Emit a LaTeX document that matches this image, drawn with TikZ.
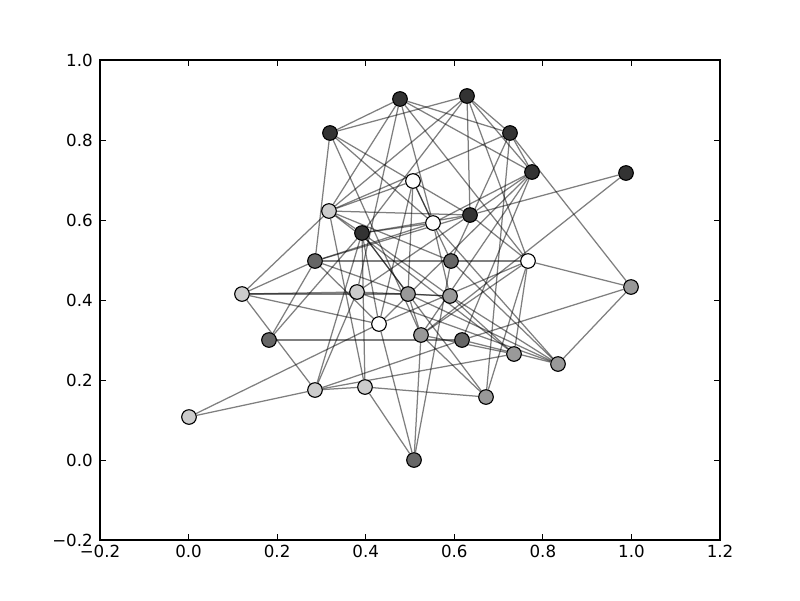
\documentclass[tikz,border=0pt]{standalone}
\usepackage{fontspec}
\setmainfont{DejaVu Sans}
\pgfdeclarelayer{bg}
\pgfsetlayers{bg,main}
\definecolor{cdark}{HTML}{333333}
\definecolor{cdgray}{HTML}{666666}
\definecolor{cmid}{HTML}{999999}
\definecolor{clight}{HTML}{CCCCCC}
\begin{document}
\begin{tikzpicture}[x=0.72pt,y=-0.72pt,
  nd/.style={circle,draw=black,line width=0.8pt,minimum size=10.5pt,inner sep=0pt},
  dk/.style={nd,fill=cdark},
  dg/.style={nd,fill=cdgray},
  md/.style={nd,fill=cmid},
  lt/.style={nd,fill=clight},
  wt/.style={nd,fill=white},
  ed/.style={draw=black,draw opacity=0.5,line width=0.9pt},
  tick/.style={line width=0.6pt},
  lab/.style={font=\fontsize{12}{14}\selectfont,inner sep=0pt}]
\useasboundingbox (0,0) rectangle (800,600);
% axes frame
\draw[line width=0.8pt] (100,60) rectangle (720,540);
% x ticks
\foreach \px/\t in {100/{−0.2},188.57/{0.0},277.14/{0.2},365.71/{0.4},454.29/{0.6},542.86/{0.8},631.43/{1.0},720/{1.2}}{
  \draw[tick] (\px,540) -- (\px,534.4);
  \draw[tick] (\px,60) -- (\px,65.6);
  \node[lab,anchor=north] (xl\px) at (\px,545) {\t};
}
% y ticks
\foreach \py/\t in {540/{−0.2},460/{0.0},380/{0.2},300/{0.4},220/{0.6},140/{0.8},60/{1.0}}{
  \draw[tick] (100,\py) -- (105.6,\py);
  \draw[tick] (720,\py) -- (714.4,\py);
  \node[lab,anchor=east] (yl\py) at (93,\py) {\t};
}
% nodes
\node[dk] (A) at (400,99) {};
\node[dk] (B) at (467,96) {};
\node[dk] (C) at (330,133) {};
\node[dk] (D) at (510,133) {};
\node[dk] (E) at (532,172) {};
\node[dk] (F) at (626,173) {};
\node[wt] (G) at (413,181) {};
\node[wt] (H) at (433,223) {};
\node[lt] (I) at (329,211) {};
\node[dk] (J) at (470,215) {};
\node[dk] (K) at (362,233) {};
\node[dg] (L) at (315,261) {};
\node[dg] (M) at (451,261) {};
\node[wt] (N) at (528,261) {};
\node[lt] (O) at (242,294) {};
\node[lt] (P) at (357,292) {};
\node[md] (Q) at (408,294) {};
\node[md] (R) at (450,296) {};
\node[md] (S) at (631,287) {};
\node[wt] (T) at (379,324) {};
\node[dg] (U) at (269,340) {};
\node[md] (V) at (421,335) {};
\node[dg] (W) at (462,340) {};
\node[md] (X) at (514,354) {};
\node[md] (Y) at (558,364) {};
\node[lt] (Z) at (315,390) {};
\node[lt] (a) at (365,387) {};
\node[md] (b) at (486,397) {};
\node[lt] (c) at (189,417) {};
\node[dg] (d) at (414,460) {};
\begin{pgfonlayer}{bg}
\foreach \p/\q in {A/C,A/D,A/E,A/I,A/P,A/H,A/N,
  B/C,B/D,B/E,B/J,B/N,B/I,B/K,
  C/L,C/H,C/V,C/J,
  D/E,D/I,D/S,D/M,D/b,
  E/J,E/H,E/T,E/V,E/W,
  F/J,F/V,
  G/H,G/M,G/I,G/Q,G/T,
  H/L,H/Y,H/K,H/R,
  I/J,I/K,I/O,I/M,I/a,I/X,
  J/L,J/P,J/N,J/K,
  K/Z,K/U,K/Q,K/R,K/T,K/a,K/b,
  L/N,L/O,L/U,L/Q,L/T,
  M/Y,M/d,
  N/S,N/X,N/b,N/T,N/V,
  O/P,O/Q,O/T,O/Z,
  P/R,P/Z,P/Y,
  Q/R,Q/V,Q/Y,
  R/X,R/Y,
  S/W,S/Y,
  T/c,T/d,
  U/W,
  V/X,V/d,V/b,
  W/Y,W/Z,
  X/Z,
  Z/c,Z/a,
  a/b,a/d}{
  \draw[ed] (\p) -- (\q);
}
\end{pgfonlayer}
\end{tikzpicture}
\end{document}
